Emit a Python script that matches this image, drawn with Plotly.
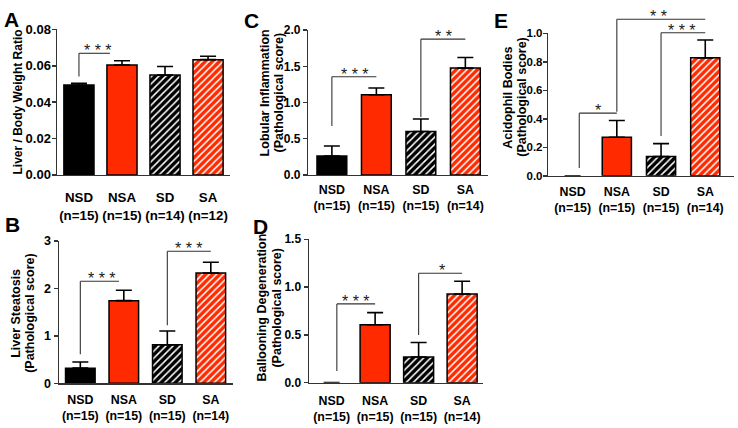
import plotly.graph_objects as go

W, H = 738, 428

# ---------------- data ----------------
groups = ["NSD", "NSA", "SD", "SA"]
n_A = ["(n=15)", "(n=15)", "(n=14)", "(n=12)"]
n_BCDE = ["(n=15)", "(n=15)", "(n=15)", "(n=14)"]

liver_ratio_mean = [0.0494, 0.0605, 0.0549, 0.0634]
liver_ratio_sem = [0.0010, 0.0023, 0.0047, 0.0019]

steatosis_mean = [0.32, 1.74, 0.81, 2.32]
steatosis_sem = [0.13, 0.22, 0.29, 0.23]

lobular_mean = [0.26, 1.107, 0.60, 1.476]
lobular_sem = [0.14, 0.093, 0.173, 0.146]

ballooning_mean = [0.0, 0.605, 0.269, 0.928]
ballooning_sem = [None, 0.128, 0.151, 0.132]

acidophil_mean = [0.0, 0.271, 0.135, 0.828]
acidophil_sem = [None, 0.117, 0.091, 0.125]

# significance brackets: (x_left, x_right, y_top, y_left_bottom, label, label_x)
sig_A = [(0.0, 0.72, 0.0669, 0.0542, "* * *", 0.45)]
sig_B = [(0.0, 0.89, 2.15, 0.61, "* * *", 0.49), (2.0, 3.0, 2.78, 1.22, "* * *", 2.5)]
sig_C = [(0.0, 1.0, 1.356, 0.676, "* * *", 0.52), (2.0, 3.0, 1.876, 0.80, "* *", 2.52)]
sig_D = [(0.12, 1.0, 0.824, 0.121, "* * *", 0.55), (2.0, 3.0, 1.144, 0.498, "*", 2.53)]
sig_E = [(0.15, 1.0, 0.44, 0.056, "*", 0.58), (1.0, 3.0, 1.099, 0.45, "* *", 1.94),
         (2.0, 3.0, 1.004, 0.28, "* * *", 2.47)]

# ---------------- style ----------------
BLACK = "#000000"
RED = "#FF2A00"
bar_colors = [BLACK, RED, BLACK, RED]
bar_patterns = ["", "", "/", "/"]
FONT = "Liberation Sans, Arial, sans-serif"
AXC = "#333333"

panels = [
    dict(key="A", x=(57, 230), y=(23.3, 174), xr=(-0.51, 3.51), yr=(0, 0.08), dt=0.02, fmt=".2f", bw=0.70,
         mean=liver_ratio_mean, sem=liver_ratio_sem, n=n_A, sig=sig_A, so=10, tf=13, cf=13.3, yso=-2),
    dict(key="B", x=(59, 233), y=(242.3, 390), xr=(-0.49, 3.51), yr=(0, 3), dt=1, fmt="d", bw=0.68,
         mean=steatosis_mean, sem=steatosis_sem, n=n_BCDE, sig=sig_B, so=4, tf=12.5, cf=12.4, yso=0),
    dict(key="C", x=(308.3, 487.6), y=(24, 174), xr=(-0.53, 3.5), yr=(0, 2), dt=0.5, fmt=".1f", bw=0.67,
         mean=lobular_mean, sem=lobular_sem, n=n_BCDE, sig=sig_C, so=3, tf=12, cf=12.4, yso=0),
    dict(key="D", x=(309, 483), y=(240.7, 389.3), xr=(-0.52, 3.48), yr=(0, 1.5), dt=0.5, fmt=".1f", bw=0.69,
         mean=ballooning_mean, sem=ballooning_sem, n=n_BCDE, sig=sig_D, so=6, tf=12, cf=12.4, yso=0),
    dict(key="E", x=(548.3, 734), y=(27.3, 175), xr=(-0.55, 3.65), yr=(0, 1.0), dt=0.2, fmt=".1f", bw=0.66,
         mean=acidophil_mean, sem=acidophil_sem, n=n_BCDE, sig=sig_E, so=4, tf=11.5, cf=12.4, yso=-2),
]

ytitles = {
    "A": (["Liver / Body Weight Ratio"], [18], 99, 12),
    "B": (["Liver Steatosis", "(Pathological score)"], [16, 30], 318, 12.5),
    "C": (["Lobular Inflammation", "(Pathological score)"], [264.5, 278.5], 89, 12.5),
    "D": (["Ballooning Degeneration", "(Pathological score)"], [262.5, 277.5], 312, 12.5),
    "E": (["Acidophil Bodies", "(Pathological score)"], [508, 522], 94, 12.5),
}
letters = {"A": (11, 13), "B": (12.5, 225.5), "C": (251, 14), "D": (260.5, 227), "E": (501, 13.5)}

fig = go.Figure()
layout = dict(width=W, height=H, margin=dict(l=0, r=0, t=0, b=0), showlegend=False,
              plot_bgcolor="white", paper_bgcolor="white", bargap=0)
shapes, annotations = [], []

for i, p in enumerate(panels, start=1):
    xa = "x" if i == 1 else f"x{i}"
    ya = "y" if i == 1 else f"y{i}"
    xk = "xaxis" if i == 1 else f"xaxis{i}"
    yk = "yaxis" if i == 1 else f"yaxis{i}"
    outline_w = [1.5 if v > 0 else 0 for v in p["mean"]]
    fills = [c if v > 0 else "rgba(0,0,0,0)" for c, v in zip(bar_colors, p["mean"])]
    fig.add_trace(go.Bar(
        x=list(range(len(groups))), y=p["mean"], width=p["bw"],
        marker=dict(color=fills, line=dict(color=BLACK, width=outline_w),
                    pattern=dict(shape=bar_patterns, fgcolor="white", fgopacity=1,
                                 size=5, solidity=0.3, fillmode="overlay")),
        error_y=dict(type="data", array=p["sem"], arrayminus=[0] * 4, symmetric=False,
                     color=BLACK, thickness=1.6, width=8),
        xaxis=xa, yaxis=ya, hoverinfo="skip"))
    ticktext = [f"{g}<br>{n}" for g, n in zip(groups, p["n"])]
    layout[xk] = dict(domain=[p["x"][0] / W, p["x"][1] / W], range=list(p["xr"]), anchor=ya,
                      tickvals=list(range(len(groups))), ticktext=ticktext, ticks="",
                      showline=True, linecolor=AXC, linewidth=1.5, showgrid=False, zeroline=False,
                      tickfont=dict(family=FONT, size=p["cf"], color="black", weight="bold"),
                      ticklabelstandoff=p["so"], fixedrange=True)
    layout[yk] = dict(domain=[1 - p["y"][1] / H, 1 - p["y"][0] / H], range=list(p["yr"]), anchor=xa,
                      dtick=p["dt"], tick0=0, tickformat=p["fmt"], ticks="outside", ticklen=4,
                      tickwidth=1.5, tickcolor=AXC, showline=True, linecolor=AXC, linewidth=1.5,
                      showgrid=False, zeroline=False, ticklabelstandoff=p["yso"],
                      tickfont=dict(family=FONT, size=p["tf"], color="black", weight="bold"),
                      fixedrange=True)
    xr0, xr1 = p["xr"]
    yr0, yr1 = p["yr"]
    fx = lambda v: (v - xr0) / (xr1 - xr0)
    fy = lambda v: (v - yr0) / (yr1 - yr0)
    for (xl, xrt, yt, yb, lab, lx) in p["sig"]:
        line = dict(color=AXC, width=1.1)
        shapes.append(dict(type="line", xref=f"{xa} domain", yref=f"{ya} domain",
                           x0=fx(xl), x1=fx(xl), y0=fy(yb), y1=fy(yt), line=line))
        shapes.append(dict(type="line", xref=f"{xa} domain", yref=f"{ya} domain",
                           x0=fx(xl), x1=fx(xrt), y0=fy(yt), y1=fy(yt), line=line))
        annotations.append(dict(x=fx(lx), y=fy(yt), xref=f"{xa} domain", yref=f"{ya} domain",
                                text=lab, showarrow=False, xanchor="center", yanchor="bottom",
                                yshift=-8, font=dict(family=FONT, size=16, color="#1a1a1a")))
    lines, xs, yc, fs = ytitles[p["key"]]
    for t, xx in zip(lines, xs):
        annotations.append(dict(x=xx / W, y=1 - yc / H, xref="paper", yref="paper", text=t,
                                textangle=-90, showarrow=False, xanchor="center", yanchor="middle",
                                font=dict(family=FONT, size=fs, color="black", weight="bold")))
    lx_, ly_ = letters[p["key"]]
    annotations.append(dict(x=lx_ / W, y=1 - ly_ / H, xref="paper", yref="paper", text=p["key"],
                            showarrow=False, xanchor="center", yanchor="middle",
                            font=dict(family=FONT, size=21, color="black", weight="bold")))

layout["shapes"] = shapes
layout["annotations"] = annotations
fig.update_layout(**layout)
fig.write_html("out.html", config={"displayModeBar": False, "staticPlot": True},
               post_script="document.body.style.margin='0px';document.body.style.overflow='hidden';")
